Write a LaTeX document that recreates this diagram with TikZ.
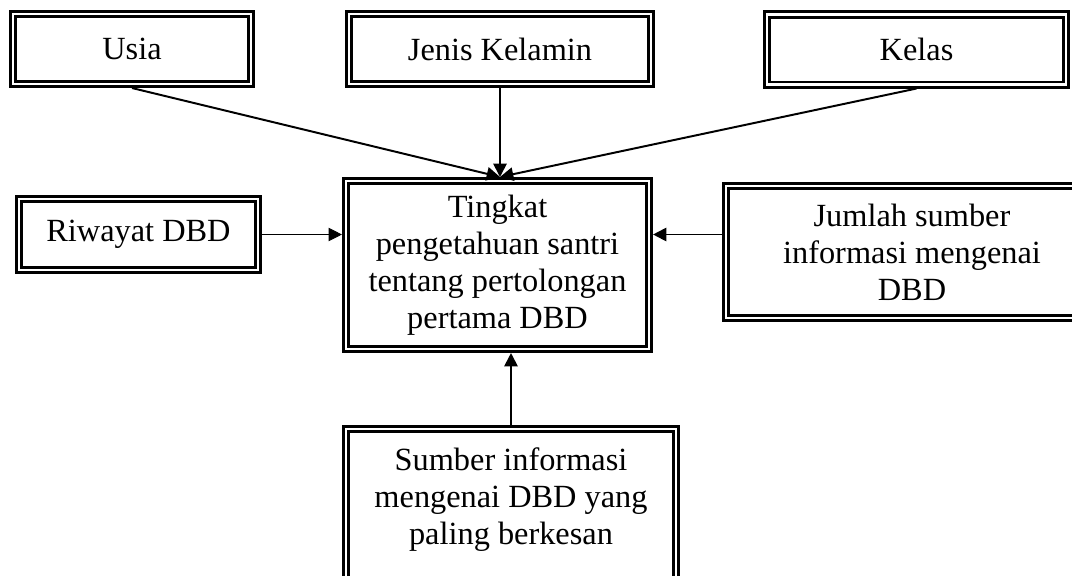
\documentclass[tikz,border=0pt]{standalone}
\usepackage{fontspec}
\setmainfont{Liberation Serif}
\usepackage{tikz}
\usetikzlibrary{arrows.meta,positioning,calc}

\begin{document}
\begin{tikzpicture}[
  x=0.025cm, y=-0.025cm,
  >={Triangle[length=9.5pt,width=9.5pt]},
  font=\fontsize{23}{26.3}\selectfont,
  kotak/.style={draw=black, double, line width=1.9pt, double distance=1.9pt,
    outer sep=2.85pt, align=center, inner sep=2pt},
  panah/.style={->, line width=1.4pt},
  panahtipis/.style={->, line width=0.6pt}
]

% bingkai gambar
\path[use as bounding box, clip] (0,0) rectangle (1072,575);

% ==================== Variabel atas ====================
\node (usia) [kotak, minimum width=5.95cm, minimum height=1.75cm] at (132,49) {Usia};
\node (jenis) [kotak, minimum width=7.55cm, minimum height=1.75cm] at (500,49) {Jenis Kelamin};
\node (kelas) [kotak, minimum width=7.475cm, minimum height=1.75cm] at (916.5,49.5) {Kelas};

% ==================== Variabel dependen (tengah) ====================
\node (pusat) [kotak, minimum width=7.575cm, minimum height=4.2cm] at (497.5,265)
  {Tingkat\\pengetahuan santri\\tentang pertolongan\\pertama DBD};

% ==================== Variabel samping ====================
\node (riwayat) [kotak, minimum width=5.975cm, minimum height=1.775cm] at (138.5,234.5) {Riwayat DBD};
\node (jumlah) [kotak, minimum width=9.3cm, minimum height=3.3cm] at (912,252)
  {Jumlah sumber\\informasi mengenai\\DBD};

% ==================== Variabel bawah ====================
\node (sumber) [kotak, minimum width=8.25cm, minimum height=3.9cm, text depth=0.55cm] at (511,507)
  {Sumber informasi\\mengenai DBD yang\\paling berkesan};

% Panah ke variabel dependen
\coordinate (atas) at (jenis.south |- pusat.north);
\draw[panah] (usia.south) -- (atas);
\draw[panah] (jenis.south) -- (atas);
\draw[panah] (kelas.south) -- (atas);
\draw[panahtipis] (riwayat.east) -- (riwayat.east -| pusat.west);
\draw[panah] (jumlah.west |- riwayat.east) -- (riwayat.east -| pusat.east);
\draw[panah] (sumber.north) -- (sumber.north |- pusat.south);

\end{tikzpicture}
\end{document}
